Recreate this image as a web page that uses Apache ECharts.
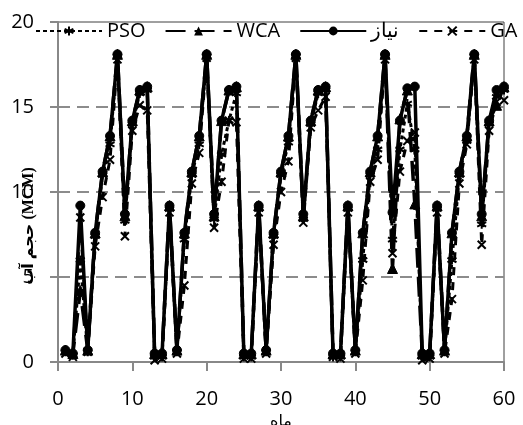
<!DOCTYPE html>
<html>
<head>
<meta charset="utf-8">
<script src="https://cdn.jsdelivr.net/npm/echarts@6/dist/echarts.min.js"></script>
<style>
html,body{margin:0;padding:0;background:#fff;}
#c{width:523px;height:425px;}
</style>
</head>
<body>
<div id="c"></div>
<script>
var months = [];
for (var m = 1; m <= 60; m++) months.push(m);

var demand = [0.7,0.5,9.2,0.7,7.6,11.2,13.3,18.1,8.7,14.2,16.0,16.2,
              0.5,0.5,9.2,0.7,7.6,11.2,13.3,18.1,8.7,14.2,16.0,16.2,
              0.5,0.5,9.2,0.7,7.6,11.2,13.3,18.1,8.7,14.2,16.0,16.2,
              0.5,0.5,9.2,0.7,7.6,11.2,13.3,18.1,8.8,14.2,16.1,16.2,
              0.5,0.5,9.2,0.7,7.6,11.2,13.3,18.1,8.7,14.2,16.0,16.2];

var wca = [0.7,0.5,4.2,0.7,7.6,11.2,13.3,18.1,8.6,14.2,16.0,16.2,
           0.5,0.5,9.2,0.7,7.6,11.2,13.3,18.1,8.6,14.2,16.0,16.2,
           0.5,0.5,9.2,0.7,7.6,11.2,13.3,18.1,8.6,14.2,16.0,16.2,
           0.5,0.5,9.2,0.7,7.6,11.2,13.3,18.1,5.5,14.3,16.0,9.3,
           0.5,0.5,9.2,0.7,7.6,11.2,13.3,18.1,8.6,14.2,15.1,16.2];

var pso = [0.6,0.4,6.0,0.6,7.4,11.0,12.8,18.0,8.3,14.0,15.8,16.0,
           0.3,0.3,9.0,0.6,7.2,11.0,12.8,18.0,8.4,12.2,14.2,15.8,
           0.3,0.3,9.0,0.6,7.4,11.0,12.9,18.0,8.4,14.0,15.8,16.0,
           0.3,0.3,9.0,0.6,6.0,11.0,12.5,18.0,7.2,12.5,15.2,12.5,
           0.3,0.3,9.0,0.6,6.0,11.0,13.0,18.0,8.1,14.0,15.6,16.0];

var ga = [0.5,0.3,8.5,0.6,6.8,9.7,11.9,17.8,7.4,13.6,15.1,14.8,
          0.1,0.2,8.8,0.5,4.5,10.5,12.3,17.9,7.9,10.6,14.2,14.1,
          0.2,0.2,8.8,0.5,6.9,10.0,11.8,17.9,8.2,13.8,14.8,15.6,
          0.3,0.2,8.8,0.5,4.8,10.6,11.9,17.8,6.4,11.2,13.0,13.5,
          0.1,0.2,8.8,0.5,3.7,10.5,12.8,17.8,6.9,13.6,15.3,15.4];

var seriesNames = ['PSO', 'WCA', 'نیاز', 'GA'];
var yTicks = [0, 5, 10, 15, 20];

function pairs(vals) {
  return months.map(function (x, i) { return [x, vals[i]]; });
}

var asterisk = 'path://M5,0 L5,10 M0.7,2.5 L9.3,7.5 M0.7,7.5 L9.3,2.5';
var cross = 'path://M0,0 L10,10 M10,0 L0,10';

var chart = echarts.init(document.getElementById('c'), null, {renderer: 'canvas'});
chart.setOption({
  animation: false,
  backgroundColor: '#fff',
  textStyle: {fontFamily: 'Open Sans'},
  grid: {left: 58, right: 19, top: 22, bottom: 63, containLabel: false, outerBoundsMode: 'none',
         show: true, borderColor: '#404040', borderWidth: 1, backgroundColor: 'transparent'},
  legend: {
    data: seriesNames,
    left: 30, top: 16,
    itemWidth: 66, itemHeight: 11, itemGap: 19,
    textStyle: {fontSize: 20, color: '#000', fontFamily: 'Open Sans'}
  },
  xAxis: {
    type: 'value', min: 0, max: 60, interval: 10,
    name: 'ماه', nameLocation: 'middle', nameGap: 52,
    nameTextStyle: {fontSize: 16, color: '#000', fontFamily: 'DejaVu Sans'},
    axisLine: {show: true, lineStyle: {color: '#888', width: 2}},
    axisTick: {show: true, length: 9, lineStyle: {color: '#888', width: 2}},
    axisLabel: {fontSize: 20, color: '#000', margin: 27, fontFamily: 'Open Sans'},
    splitLine: {show: false}
  },
  yAxis: {
    type: 'value', min: 0, max: 20, interval: 5,
    axisLine: {show: true, lineStyle: {color: '#888', width: 2}},
    axisTick: {show: true, length: 8, lineStyle: {color: '#888', width: 2}},
    axisLabel: {fontSize: 20, color: '#000', margin: 24, fontFamily: 'Open Sans'},
    splitLine: {show: true, showMinLine: false, showMaxLine: false, lineStyle: {color: '#8c8c8c', width: 2, type: [12, 7]}}
  },
  graphic: [{
    type: 'text',
    x: 29, y: 226,
    rotation: Math.PI / 2,
    style: {
      text: 'حجم آب (MCM)',
      font: 'bold 16px "Liberation Serif", "DejaVu Sans"',
      fill: '#000',
      align: 'center',
      verticalAlign: 'middle'
    }
  }],
  series: [
    {
      name: 'PSO', type: 'line', data: pairs(pso), z: 2,
      symbol: asterisk, symbolSize: 9,
      lineStyle: {color: '#000', width: 3, type: [4, 3]},
      itemStyle: {color: '#000', borderColor: '#000', borderWidth: 2}
    },
    {
      name: 'WCA', type: 'line', data: pairs(wca), z: 3,
      symbol: 'triangle', symbolSize: 10,
      lineStyle: {color: '#000', width: 3.5, type: [20, 9]},
      itemStyle: {color: '#000', borderColor: '#000'}
    },
    {
      name: 'GA', type: 'line', data: pairs(ga), z: 2,
      symbol: cross, symbolSize: 8,
      lineStyle: {color: '#000', width: 3, type: [8, 7]},
      itemStyle: {color: '#000', borderColor: '#000', borderWidth: 2}
    },
    {
      name: 'نیاز', type: 'line', data: pairs(demand), z: 4,
      symbol: 'circle', symbolSize: 9,
      lineStyle: {color: '#000', width: 3.5, type: 'solid'},
      itemStyle: {color: '#000', borderColor: '#000'}
    }
  ]
});
</script>
</body>
</html>
